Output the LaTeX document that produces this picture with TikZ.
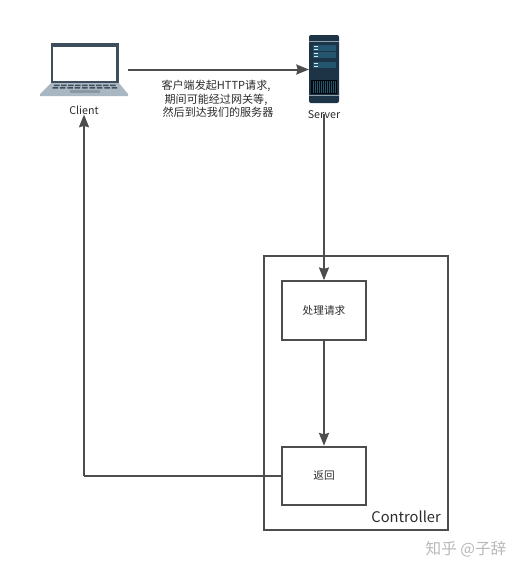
\documentclass[tikz,border=0pt]{standalone}
\usepackage{fontspec}
\setmainfont{Noto Sans CJK SC}
\usetikzlibrary{arrows.meta, positioning}
\definecolor{colLine}    {HTML}{4D4D4D}
\definecolor{colText}    {HTML}{2B2B2B}
\definecolor{colMark}    {HTML}{B8B8B8}
\definecolor{colScreen}  {HTML}{3E4E5C}
\definecolor{colBase}    {HTML}{A9B7C2}
\definecolor{colPad}     {HTML}{8B98A3}
\definecolor{colRack}    {HTML}{1C3445}
\definecolor{colPanel}   {HTML}{24566F}
\definecolor{colBand}    {HTML}{8FA3AF}
\tikzset{
  boxnode/.style={
    draw=colLine, line width=1.5pt, minimum width=63pt, minimum height=44pt,
    align=center, font=\fontsize{8}{10}\selectfont, text=colText
  },
  framenode/.style={
    draw=colLine, line width=1.5pt, minimum width=138pt, minimum height=205.5pt
  },
  iconnode/.style={inner sep=0pt, outer sep=0pt},
  caption/.style={font=\fontsize{8}{10}\selectfont, text=colText, inner sep=0pt},
  mainarr/.style={
    -{Stealth[length=9.5pt,width=7.5pt,inset=1pt]},
    line width=1.5pt, draw=colLine
  },
  plainline/.style={line width=1.5pt, draw=colLine}
}
\begin{document}
\begin{tikzpicture}[x=0.75pt, y=-0.75pt]
  \useasboundingbox (0,0) rectangle (519,572);
  % laptop
  \fill[colScreen] (51,42.5) rectangle (119,83);
  \fill[white] (53,46.5) rectangle (116,81);
  \fill[colBase] (51,83) -- (119,83) -- (128,94) -- (128,96) -- (40,96) -- (40,94) -- cycle;
  \foreach \k in {0,...,8}
    \fill[colScreen] (54+\k*7,84.5) rectangle ++(5.5,1.5) (52.5+\k*7.4,87) rectangle ++(5.5,1.5);
  \fill[colPad] (70,89.5) rectangle (100,93);
  % server
  \fill[colRack, rounded corners=1.5pt] (309,35) rectangle (339,103);
  \fill[colBand] (309,40.5) rectangle (339,41.5);
  \foreach \r in {45,52,62}
    \fill[colPanel] (313,\r) rectangle (336,\r+6);
  \foreach \r in {46,49,53,56,63,66}
    \fill[white!85!colPanel] (314,\r) rectangle (318,\r+1);
  \fill[black!85!colRack] (311,80) rectangle (337,94);
  \foreach \v in {0,...,11}
    \draw[colPanel, line width=0.3pt] (313+\v*2,81) -- (313+\v*2,93);
  \fill[colBand] (309,95) rectangle (339,96);
  % nodes
  \node[iconnode, minimum width=66pt, minimum height=40pt] (laptop) at (84,69.5) {};
  \node[iconnode, minimum width=22.5pt, minimum height=51pt] (server) at (324,69.5) {};
  \node[caption] (client) at (84,110) {Client};
  \node[caption] (srvname) at (324,115) {Server};
  \node[caption, align=center, font=\fontsize{8.3}{10}\selectfont] (note) at (216,99) {客户端发起HTTP请求,\\期间可能经过网关等,\\\hspace*{3pt}然后到达我们的服务器};
  \node[framenode] (ctrl) at (356,393) {};
  \node[boxnode] (proc) at (324,310.5) {处理请求};
  \node[boxnode] (ret) at (324,476) {返回};
  \node[caption, font=\fontsize{11}{12}\selectfont, anchor=south east] (ctrlname) at (441,522.5) {Controller};
  \node[caption, font=\fontsize{11.7}{13}\selectfont, text=colMark] (mark) at (466,549) {知乎 @子辞};
  % connectors
  \coordinate (turn) at (client.south |- ret.west);
  \draw[mainarr] (laptop.east) -- (server.west);
  \draw[mainarr] (srvname.south) ++(0,4pt) -- (proc.north);
  \draw[mainarr] (proc) -- (ret);
  \draw[plainline] (ret.west) -- (turn);
  \draw[mainarr] (turn) -- (client.south);
\end{tikzpicture}
\end{document}
